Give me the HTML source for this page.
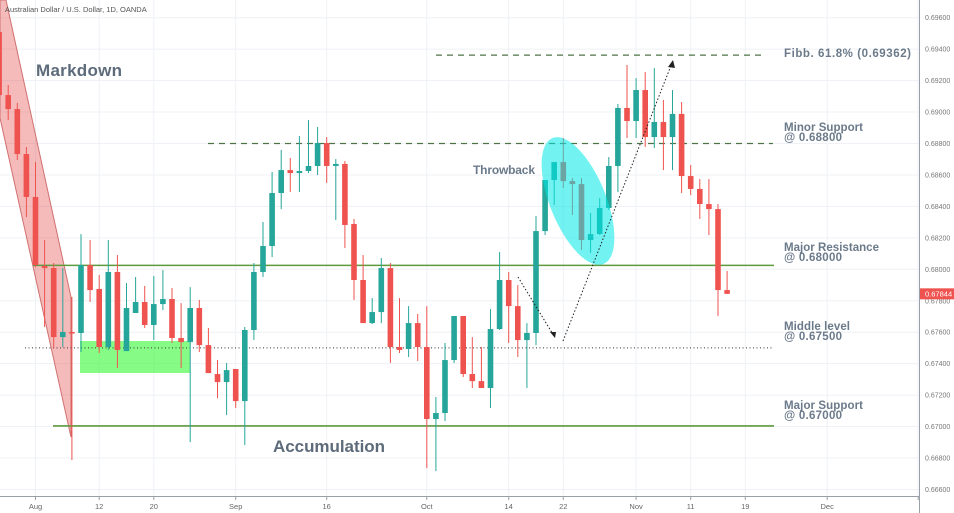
<!DOCTYPE html>
<html><head><meta charset="utf-8"><style>
html,body{margin:0;padding:0;background:#fff;width:954px;height:513px;overflow:hidden}
svg{display:block;font-family:"Liberation Sans",sans-serif}
.lbl{font-weight:bold;fill:#6b7a8a;font-size:11.5px}
</style></head><body>
<svg id="chart" width="954" height="513" viewBox="0 0 954 513" xmlns="http://www.w3.org/2000/svg">
<g id="grid"></g>
<polygon points="0,0 6,0 71,297 71,437 0,118" fill="rgba(232,90,90,0.42)" stroke="#d07070" stroke-width="1"/>
<rect x="80" y="341" width="110" height="32" fill="rgba(60,250,60,0.62)"/>
<g id="levels"></g>
<g id="candles"></g>
<ellipse cx="578" cy="201" rx="28" ry="68" transform="rotate(-22 578 201)" fill="rgba(0,232,232,0.55)"/>
<g stroke="#222" stroke-width="1" stroke-dasharray="1.5,2" fill="none">
<line x1="518" y1="277" x2="554" y2="336"/>
<line x1="563" y1="341" x2="672" y2="63"/>
</g>
<polygon points="555,338 550,332 556,332" fill="#222"/>
<polygon points="673,60 668,67 675,68" fill="#222"/>
<text x="5" y="12" font-size="7.5" fill="#555">Australian Dollar / U.S. Dollar, 1D, OANDA</text>
<text x="36" y="76" font-size="17" font-weight="bold" fill="#5d6b7a" textLength="86">Markdown</text>
<text x="273" y="452" font-size="17" font-weight="bold" fill="#5d6b7a" textLength="112">Accumulation</text>
<text x="473" y="174" font-size="12" font-weight="bold" fill="#6b7a8a" textLength="62">Throwback</text>
<text class="lbl" x="784" y="57" font-size="12.5" textLength="127">Fibb. 61.8% (0.69362)</text>
<text class="lbl" x="784" y="131" textLength="79">Minor Support</text>
<text class="lbl" x="784" y="141" textLength="58">@ 0.68800</text>
<text class="lbl" x="784" y="251" textLength="95">Major Resistance</text>
<text class="lbl" x="784" y="261" textLength="58">@ 0.68000</text>
<text class="lbl" x="784" y="330" textLength="66">Middle level</text>
<text class="lbl" x="784" y="340" textLength="58">@ 0.67500</text>
<text class="lbl" x="784" y="409" textLength="79">Major Support</text>
<text class="lbl" x="784" y="419" textLength="58">@ 0.67000</text>
<g id="axes"></g>
</svg>
<script>
const opens  = [0.69509,0.69108,0.69019,0.68733,0.68460,0.68021,0.68008,0.67569,0.67601,0.67595,0.68027,0.67875,0.67506,0.67983,0.67480,0.67722,0.67792,0.67646,0.67779,0.67811,0.67563,0.67537,0.67754,0.67518,0.67334,0.67283,0.67366,0.67162,0.67614,0.67983,0.68148,0.68485,0.68631,0.68612,0.68625,0.68657,0.68803,0.68657,0.68670,0.68288,0.67932,0.67658,0.67728,0.68008,0.67506,0.67493,0.67658,0.67506,0.67048,0.67086,0.67423,0.67703,0.67334,0.67289,0.67245,0.67620,0.67932,0.67766,0.67550,0.67595,0.68243,0.68568,0.68682,0.68561,0.68542,0.68186,0.68224,0.68390,0.68657,0.69026,0.68943,0.69140,0.68841,0.68937,0.68841,0.68988,0.68593,0.68511,0.68415,0.68383,0.67868];
const highs  = [0.69600,0.69172,0.69058,0.68778,0.68682,0.68186,0.68040,0.68008,0.67824,0.68224,0.68186,0.67964,0.68186,0.68091,0.67913,0.67951,0.67894,0.67957,0.67995,0.67881,0.67785,0.67887,0.67805,0.67627,0.67423,0.67404,0.67366,0.67633,0.68040,0.68301,0.68619,0.68759,0.68708,0.68848,0.68949,0.68905,0.68841,0.68701,0.68689,0.68320,0.68091,0.67817,0.68072,0.68040,0.67817,0.67766,0.67716,0.67766,0.67188,0.67531,0.67703,0.67703,0.67569,0.67506,0.67747,0.68110,0.67983,0.67900,0.67658,0.68339,0.68568,0.68682,0.68835,0.68580,0.68580,0.68358,0.68453,0.68714,0.69051,0.69299,0.69216,0.69255,0.69280,0.69077,0.69140,0.69064,0.68663,0.68574,0.68574,0.68415,0.67989];
const lows   = [0.69050,0.68949,0.68695,0.68332,0.68015,0.67633,0.67499,0.67506,0.66787,0.67474,0.67792,0.67468,0.67487,0.67372,0.67480,0.67722,0.67627,0.67550,0.67741,0.67531,0.67372,0.66901,0.67474,0.67340,0.67181,0.67073,0.67118,0.66882,0.67550,0.67951,0.68078,0.68383,0.68491,0.68491,0.68612,0.68600,0.68549,0.68313,0.68135,0.67805,0.67658,0.67652,0.67658,0.67404,0.67468,0.67442,0.67417,0.66736,0.66717,0.67035,0.67404,0.67315,0.67245,0.67245,0.67118,0.67614,0.67531,0.67442,0.67245,0.67518,0.68218,0.68409,0.68517,0.68345,0.68123,0.68104,0.68218,0.68377,0.68491,0.68835,0.68835,0.68778,0.68771,0.68631,0.68631,0.68485,0.68472,0.68320,0.68218,0.67703,0.67843];
const closes = [0.69108,0.69019,0.68733,0.68460,0.68027,0.68008,0.67569,0.67601,0.67595,0.68027,0.67868,0.67506,0.67983,0.67487,0.67754,0.67792,0.67646,0.67779,0.67811,0.67563,0.67537,0.67754,0.67518,0.67340,0.67283,0.67359,0.67162,0.67614,0.67983,0.68148,0.68485,0.68631,0.68612,0.68625,0.68657,0.68803,0.68657,0.68670,0.68282,0.67932,0.67658,0.67728,0.68008,0.67506,0.67487,0.67658,0.67506,0.67048,0.67086,0.67423,0.67703,0.67334,0.67289,0.67245,0.67620,0.67932,0.67766,0.67550,0.67595,0.68243,0.68568,0.68682,0.68561,0.68542,0.68186,0.68224,0.68390,0.68657,0.69026,0.68943,0.69140,0.68841,0.68937,0.68841,0.68988,0.68593,0.68511,0.68415,0.68383,0.67868,0.67844];
const firstIndex = -4;
const dateLabels = ["Aug","12","20","Sep","16","Oct","14","22","Nov","11","19","Dec",""];
const dateIndex  = [0,7,13,22,32,43,52,58,66,72,78,87,97];
const priceTicks = [0.666,0.668,0.670,0.672,0.674,0.676,0.678,0.680,0.682,0.684,0.686,0.688,0.690,0.692,0.694,0.696];
const levelPrices = [0.69362,0.68800,0.68025,0.67500,0.67004];
const lastPrice = 0.67844;

const NS="http://www.w3.org/2000/svg";
const xOf = i => 35.5 + i*9.1;
const yOf = p => 17.7 + (0.696 - p)/0.002*31.45;
function mk(tag, attrs, parent){const e=document.createElementNS(NS,tag);for(const k in attrs)e.setAttribute(k,attrs[k]);parent.appendChild(e);return e;}

const grid=document.getElementById('grid');
priceTicks.forEach(p=>{
  const l=mk('line',{x1:0,x2:919,y1:yOf(p),y2:yOf(p),stroke:'#eef1f6','stroke-width':1},grid);
  
  
});
dateIndex.forEach(i=>{
  const l=mk('line',{x1:xOf(i),x2:xOf(i),y1:0,y2:496,stroke:'#eef1f6','stroke-width':1},grid);
  
  
});

const lv=document.getElementById('levels');
const levelSpec=[
  {x1:436,x2:765,c:'#4f7346',d:'6,5',w:1.3,n:'fibb-level-line'},
  {x1:208,x2:773,c:'#4f7346',d:'6,5',w:1.3,n:'minor-support-line'},
  {x1:33,x2:774,c:'#5e9a3e',d:'',w:1.6,n:'major-resistance-line'},
  {x1:25,x2:774,c:'#333',d:'1,2.5',w:1,n:'middle-level-line'},
  {x1:53,x2:774,c:'#5e9a3e',d:'',w:1.6,n:'major-support-line'}
];
levelPrices.forEach((p,k)=>{
  const s=levelSpec[k];
  const l=mk('line',{x1:s.x1,x2:s.x2,y1:yOf(p),y2:yOf(p),stroke:s.c,'stroke-width':s.w,'stroke-dasharray':s.d},lv);
  
  
});

const cg=document.getElementById('candles');
opens.forEach((o,k)=>{
  const c=closes[k], i=firstIndex+k, x=xOf(i);
  const up=c>=o, col=up?'#26a69a':'#ef5350';
  const g=mk('g',{},cg);
  
  
  mk('line',{x1:x,x2:x,y1:yOf(highs[k]),y2:yOf(lows[k]),stroke:col,'stroke-width':1},g);
  const top=yOf(Math.max(o,c)), bot=yOf(Math.min(o,c));
  mk('rect',{x:x-2.8,y:top,width:5.6,height:Math.max(1.5,bot-top),fill:col},g);
});

const ax=document.getElementById('axes');
const a1=mk('line',{x1:919.5,x2:919.5,y1:0,y2:513,stroke:'#9aa0a8','stroke-width':1},ax);


const a2=mk('line',{x1:0,x2:919,y1:496.5,y2:496.5,stroke:'#9aa0a8','stroke-width':1},ax);


priceTicks.forEach(p=>{
  const t=mk('text',{x:925,y:yOf(p)+2.5,'font-size':7,fill:'#777'},ax);
  t.textContent=p.toFixed(5);
  
  
});
dateLabels.forEach((s,k)=>{
  const t=mk('text',{x:xOf(dateIndex[k]),y:509,'font-size':7.5,fill:'#666','text-anchor':'middle'},ax);
  t.textContent=s;
  
  
  const tk=mk('line',{x1:xOf(dateIndex[k]),x2:xOf(dateIndex[k]),y1:496,y2:500,stroke:'#9aa0a8'},ax);
  
  
});
const pb=mk('rect',{x:920,y:yOf(lastPrice)-5.5,width:34,height:11,fill:'#ef5350'},ax);


const pt=mk('text',{x:925,y:yOf(lastPrice)+2.5,'font-size':7.5,fill:'#fff'},ax);
pt.textContent=lastPrice.toFixed(5);


</script>
</body></html>
